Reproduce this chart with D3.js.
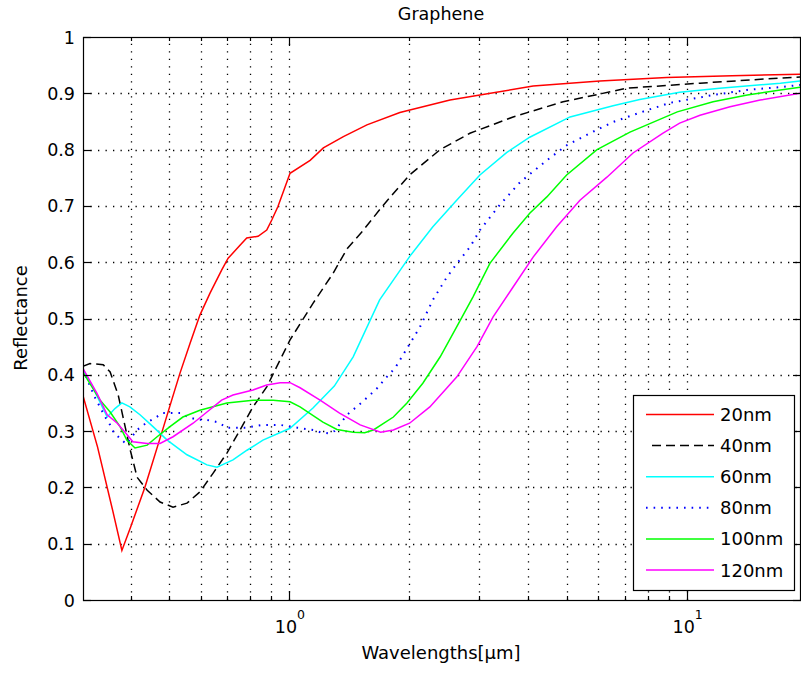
<!DOCTYPE html>
<html>
<head>
<meta charset="utf-8">
<script src="https://cdn.jsdelivr.net/npm/d3@7"></script>
<style>
  body { margin: 0; background: #fff; }
  text { font-family: "DejaVu Sans", sans-serif; fill: #000; }
</style>
</head>
<body>
<script>

// reflectance vs wavelength, one pair of arrays per thickness
var thickness = ["20nm", "40nm", "60nm", "80nm", "100nm", "120nm"];

var wl20 = [0.303, 0.33, 0.36, 0.38, 0.40, 0.434, 0.48, 0.507, 0.532, 0.564, 0.597, 0.633, 0.677, 0.703, 0.753, 0.783, 0.836, 0.879, 0.905, 0.938, 1.006, 1.13, 1.22, 1.37, 1.57, 1.9, 2.54, 3.02, 4.11, 6.05, 8.9, 13, 19.3];
var r20  = [0.364, 0.272, 0.16, 0.088, 0.13, 0.2, 0.3, 0.355, 0.403, 0.456, 0.506, 0.545, 0.586, 0.607, 0.63, 0.643, 0.646, 0.657, 0.675, 0.699, 0.758, 0.781, 0.803, 0.823, 0.844, 0.866, 0.888, 0.897, 0.913, 0.922, 0.928, 0.931, 0.934];

var wl40 = [0.303, 0.316, 0.341, 0.355, 0.372, 0.399, 0.415, 0.44, 0.474, 0.511, 0.554, 0.597, 0.644, 0.698, 0.753, 0.812, 0.88, 0.949, 1.006, 1.149, 1.29, 1.40, 1.53, 1.72, 2.01, 2.40, 2.85, 3.66, 4.89, 7.07, 10.8, 17.1, 19.3];
var r40  = [0.415, 0.42, 0.418, 0.405, 0.364, 0.266, 0.218, 0.195, 0.174, 0.165, 0.172, 0.192, 0.225, 0.261, 0.302, 0.343, 0.379, 0.426, 0.462, 0.527, 0.58, 0.624, 0.655, 0.70, 0.755, 0.80, 0.829, 0.858, 0.885, 0.909, 0.918, 0.927, 0.929];

var wl60 = [0.303, 0.32, 0.349, 0.365, 0.38, 0.398, 0.422, 0.455, 0.494, 0.554, 0.622, 0.659, 0.723, 0.784, 0.86, 1.006, 1.149, 1.30, 1.45, 1.69, 2.01, 2.30, 2.64, 3.02, 3.53, 4.03, 5.09, 6.53, 7.62, 9.6, 12.1, 17.2, 19.3];
var r60  = [0.41, 0.38, 0.325, 0.34, 0.35, 0.343, 0.329, 0.308, 0.284, 0.258, 0.24, 0.236, 0.249, 0.266, 0.284, 0.305, 0.341, 0.38, 0.432, 0.533, 0.61, 0.663, 0.71, 0.755, 0.795, 0.822, 0.858, 0.878, 0.889, 0.902, 0.909, 0.918, 0.922];

var wl80 = [0.303, 0.325, 0.345, 0.355, 0.362, 0.38, 0.39, 0.415, 0.44, 0.46, 0.48, 0.51, 0.535, 0.557, 0.59, 0.62, 0.66, 0.7, 0.78, 0.86, 0.95, 1.05, 1.15, 1.2, 1.26, 1.30, 1.40, 1.53, 1.66, 1.76, 1.848, 2.016, 2.135, 2.30, 2.497, 2.646, 2.852, 3.02, 3.39, 3.81, 4.45, 5.0, 5.71, 6.53, 7.95, 9.08, 11.65, 14.2, 17.2, 19.3];
var r80  = [0.41, 0.36, 0.325, 0.311, 0.298, 0.284, 0.277, 0.302, 0.316, 0.323, 0.332, 0.332, 0.332, 0.325, 0.32, 0.32, 0.316, 0.306, 0.306, 0.311, 0.311, 0.306, 0.302, 0.298, 0.296, 0.30, 0.329, 0.352, 0.375, 0.396, 0.412, 0.456, 0.485, 0.533, 0.574, 0.598, 0.627, 0.657, 0.702, 0.742, 0.781, 0.808, 0.829, 0.849, 0.87, 0.883, 0.897, 0.906, 0.911, 0.915];

var wl100 = [0.303, 0.335, 0.355, 0.376, 0.391, 0.41, 0.44, 0.466, 0.502, 0.541, 0.597, 0.698, 0.812, 0.912, 1.006, 1.066, 1.217, 1.32, 1.45, 1.55, 1.63, 1.83, 1.98, 2.17, 2.40, 2.64, 2.90, 3.20, 3.66, 4.03, 4.45, 4.99, 5.95, 7.2, 9.47, 11.65, 14.2, 17.2, 19.3];
var r100  = [0.405, 0.355, 0.334, 0.308, 0.284, 0.27, 0.275, 0.29, 0.308, 0.325, 0.337, 0.35, 0.355, 0.355, 0.352, 0.343, 0.316, 0.303, 0.298, 0.297, 0.302, 0.325, 0.35, 0.385, 0.432, 0.485, 0.538, 0.598, 0.652, 0.687, 0.716, 0.755, 0.8, 0.831, 0.867, 0.885, 0.897, 0.906, 0.911];

var wl120 = [0.303, 0.329, 0.349, 0.37, 0.387, 0.405, 0.44, 0.474, 0.511, 0.574, 0.622, 0.677, 0.723, 0.812, 0.879, 0.95, 1.006, 1.066, 1.197, 1.34, 1.51, 1.70, 1.83, 2.01, 2.26, 2.64, 2.97, 3.26, 3.66, 4.11, 4.71, 5.39, 6.3, 7.33, 8.7, 9.6, 10.8, 12.85, 15.3, 19.3];
var r120  = [0.412, 0.367, 0.329, 0.314, 0.298, 0.281, 0.278, 0.278, 0.29, 0.314, 0.334, 0.355, 0.364, 0.373, 0.382, 0.386, 0.386, 0.377, 0.355, 0.332, 0.311, 0.298, 0.302, 0.314, 0.343, 0.396, 0.45, 0.503, 0.556, 0.609, 0.663, 0.71, 0.751, 0.794, 0.829, 0.847, 0.861, 0.876, 0.888, 0.9];

var yTicks = [0, 0.1, 0.2, 0.3, 0.4, 0.5, 0.6, 0.7, 0.8, 0.9, 1];
var yTickLabels = ["0", "0.1", "0.2", "0.3", "0.4", "0.5", "0.6", "0.7", "0.8", "0.9", "1"];
var xMajor = [1, 10];
var xMajorExp = ["0", "1"];
var xMinor = [0.4, 0.5, 0.6, 0.7, 0.8, 0.9, 2, 3, 4, 5, 6, 7, 8, 9];

var W = 801, H = 673;
// NB: "top" is taken by window.top, so prefix these
var pL = 83, pR = 800, pT = 37, pB = 600;

var svg = d3.select("body").append("svg")
    .attr("width", W)
    .attr("height", H);

var x = d3.scaleLog().domain([0.3034, 19.27]).range([pL, pR]);
var y = d3.scaleLinear().domain([0, 1]).range([pB, pT]);

svg.append("defs").append("clipPath").attr("id", "plotclip")
  .append("rect")
    .attr("x", pL).attr("y", pT)
    .attr("width", pR - pL).attr("height", pB - pT);

// dotted grid, x gets minor lines too
var grid = svg.append("g").attr("stroke", "#000").attr("stroke-width", 1.3)
    .attr("stroke-dasharray", "1.3,6.2").attr("fill", "none");

grid.selectAll("line.gx")
    .data(xMinor.concat(xMajor))
  .enter().append("line")
    .attr("x1", function(d){ return Math.round(x(d)) + 0.5; })
    .attr("x2", function(d){ return Math.round(x(d)) + 0.5; })
    .attr("y1", pB).attr("y2", pT);

grid.selectAll("line.gy")
    .data(yTicks.slice(1, -1))
  .enter().append("line")
    .attr("y1", function(d){ return Math.round(y(d)) + 0.5; })
    .attr("y2", function(d){ return Math.round(y(d)) + 0.5; })
    .attr("x1", pL).attr("x2", pR);

var series = [
  {wl: wl20,  r: r20,  color: "#ff0000", dash: null},
  {wl: wl40,  r: r40,  color: "#000000", dash: "9,5"},
  {wl: wl60,  r: r60,  color: "#00ffff", dash: null},
  {wl: wl80,  r: r80,  color: "#0000ff", dash: "1.6,6"},
  {wl: wl100, r: r100, color: "#00ff00", dash: null},
  {wl: wl120, r: r120, color: "#ff00ff", dash: null}
];

var line = d3.line()
    .x(function(d){ return x(d[0]); })
    .y(function(d){ return y(d[1]); });

var curves = svg.append("g").attr("clip-path", "url(#plotclip)");
series.forEach(function(s){
  var pts = s.wl.map(function(w, i){ return [w, s.r[i]]; });
  curves.append("path")
      .datum(pts)
      .attr("d", line)
      .attr("fill", "none")
      .attr("stroke", s.color)
      .attr("stroke-width", s.dash && s.dash.charAt(0) === "1" ? 2 : 1.5)
      .attr("stroke-dasharray", s.dash);
});

// frame + inward ticks on all four sides
var frame = svg.append("g").attr("stroke", "#000").attr("stroke-width", 1.2).attr("fill", "none");
frame.append("rect")
    .attr("x", pL + 0.5).attr("y", pT + 0.5)
    .attr("width", pR - pL).attr("height", pB - pT);

yTicks.forEach(function(d){
  var yy = Math.round(y(d)) + 0.5;
  frame.append("line").attr("x1", pL).attr("x2", pL + 8).attr("y1", yy).attr("y2", yy);
  frame.append("line").attr("x1", pR + 1).attr("x2", pR - 7).attr("y1", yy).attr("y2", yy);
});
xMajor.forEach(function(d){
  var xx = Math.round(x(d)) + 0.5;
  frame.append("line").attr("x1", xx).attr("x2", xx).attr("y1", pB).attr("y2", pB - 9);
  frame.append("line").attr("x1", xx).attr("x2", xx).attr("y1", pT).attr("y2", pT + 9);
});
xMinor.forEach(function(d){
  var xx = Math.round(x(d)) + 0.5;
  frame.append("line").attr("x1", xx).attr("x2", xx).attr("y1", pB).attr("y2", pB - 4);
  frame.append("line").attr("x1", xx).attr("x2", xx).attr("y1", pT).attr("y2", pT + 4);
});

// tick labels
svg.selectAll("text.yl")
    .data(yTicks)
  .enter().append("text")
    .attr("x", 75)
    .attr("y", function(d){ return y(d) + 6.5; })
    .attr("text-anchor", "end")
    .style("font-size", "17.5px")
    .text(function(d, i){ return yTickLabels[i]; });

xMajor.forEach(function(d, i){
  var xx = x(d);
  svg.append("text")
      .attr("x", xx - 3).attr("y", 633)
      .attr("text-anchor", "middle")
      .style("font-size", "17.5px")
      .text("10");
  svg.append("text")
      .attr("x", xx + 8).attr("y", 619)
      .style("font-size", "12.5px")
      .text(xMajorExp[i]);
});

// title and axis labels
svg.append("text")
    .attr("x", 441).attr("y", 20)
    .attr("text-anchor", "middle")
    .style("font-size", "17.5px")
    .text("Graphene");

svg.append("text")
    .attr("x", 441).attr("y", 659)
    .attr("text-anchor", "middle")
    .style("font-size", "18px")
    .text("Wavelengths[\u00b5m]");

svg.append("text")
    .attr("transform", "translate(27,318) rotate(-90)")
    .attr("text-anchor", "middle")
    .style("font-size", "18px")
    .text("Reflectance");

// legend box, bottom right
var lg = svg.append("g");
lg.append("rect")
    .attr("x", 633.5).attr("y", 395.5)
    .attr("width", 161).attr("height", 195)
    .attr("fill", "#fff").attr("stroke", "#000").attr("stroke-width", 1.2);

series.forEach(function(s, i){
  var ly = 414.5 + i * 31.1;
  lg.append("line")
      .attr("x1", s.dash === "9,5" ? 652 : 646).attr("x2", 714)
      .attr("y1", ly).attr("y2", ly)
      .attr("stroke", s.color)
      .attr("stroke-width", s.dash && s.dash.charAt(0) === "1" ? 2 : 1.5)
      .attr("stroke-dasharray", s.dash);
  lg.append("text")
      .attr("x", 720).attr("y", ly + 6.5)
      .style("font-size", "18px")
      .text(thickness[i]);
});

</script>
</body>
</html>
